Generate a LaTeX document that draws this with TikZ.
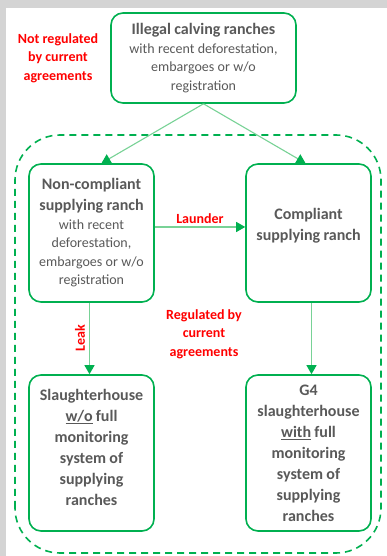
\documentclass[tikz,border=0pt]{standalone}
\usepackage{fontspec}
\setmainfont{Carlito}
\usepackage{graphicx}
\usepackage{tikz}
\usetikzlibrary{arrows.meta, positioning, calc}

\definecolor{boxgreen}{RGB}{0,176,80}
\definecolor{linegreen}{RGB}{120,210,150}
\definecolor{txtgray}{RGB}{89,89,89}
\definecolor{framegray}{RGB}{212,212,212}

\newcommand{\ttlfont}{\fontsize{16}{21}\selectfont\bfseries}
\newcommand{\subfont}{\fontsize{14}{18.5}\selectfont}

\begin{document}
\begin{tikzpicture}[x=1pt, y=1pt]
    % Styles
    \tikzstyle{block} = [rectangle, draw=boxgreen, line width=1.6pt, rounded corners=12pt,
                        text=txtgray, align=center, inner sep=2pt]
    \tikzstyle{flow} = [draw=linegreen, line width=1.1pt,
                        -{Triangle[width=10pt, length=9pt, color=boxgreen]}]
    \tikzstyle{note} = [text=red, font=\fontsize{14}{18.5}\selectfont\bfseries, align=center]

    % Frame
    \useasboundingbox (0,0) rectangle (387,556);
    \fill[white] (0,0) rectangle (387,556);
    \fill[framegray] (0,548) rectangle (387,556);
    \fill[framegray] (0,0) rectangle (6,556);

    % Regulated area
    \draw[boxgreen, line width=1.6pt, dash pattern=on 7pt off 5pt, rounded corners=45pt]
        (15,3) rectangle (381,421);

    % Nodes
    \node[block, minimum width=185pt, minimum height=90pt, text width=178pt] (illegal) at (203.5,498)
        {{\ttlfont Illegal calving ranches\par}{\subfont with recent deforestation,\\ embargoes or w/o\\ registration\par}};
    \node[block, minimum width=125pt, minimum height=138pt, text width=119pt] (noncomp) at (91.5,323)
        {{\ttlfont Non-compliant\\ supplying ranch\par}{\subfont with recent\\ deforestation,\\ embargoes or w/o\\ registration\par}};
    \node[block, minimum width=125pt, minimum height=138pt, text width=119pt] (comp) at (308.5,323)
        {{\ttlfont Compliant\\ supplying ranch\par}\vspace{14pt}};
    \node[block, minimum width=125pt, minimum height=156pt, text width=119pt] (slaughter) at (91.5,103)
        {{\ttlfont Slaughterhouse\\ \underline{w/o} full\\ monitoring\\ system of\\ supplying\\ ranches\par}\vspace{12pt}};
    \node[block, minimum width=125pt, minimum height=156pt, text width=119pt] (gfour) at (308.5,103)
        {{\ttlfont G4\\ slaughterhouse\\ \underline{with} full\\ monitoring\\ system of\\ supplying\\ ranches\par}};

    \node[note] (notreg) at (58,498) {Not regulated\\ by current\\ agreements};
    \node[note] (reg) at (204,222) {Regulated by\\ current\\ agreements};

    % Connections
    \draw[flow] (illegal.south) -- ($(noncomp.north)+(10,0)$);
    \draw[flow] (illegal.south) -- ($(comp.north)+(-3,0)$);
    \draw[flow] ($(noncomp.east)+(0,6)$) -- node[note, above] {Launder} ($(comp.west)+(0,6)$);
    \draw[flow] ($(noncomp.south)+(-2,0)$) -- node[note, anchor=east, inner sep=4pt] {\rotatebox{90}{Leak}} ($(slaughter.north)+(-2,0)$);
    \draw[flow] ($(comp.south)+(3,0)$) -- ($(gfour.north)+(3,0)$);
\end{tikzpicture}
\end{document}
